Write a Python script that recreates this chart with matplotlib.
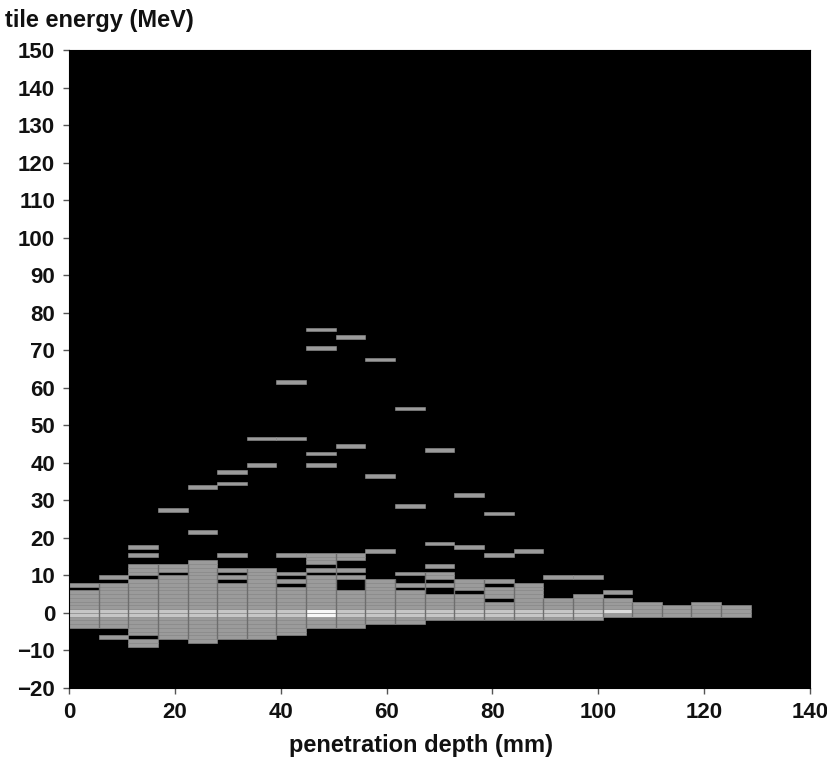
import matplotlib.pyplot as plt

plt.rcParams['font.family'] = ['Liberation Sans', 'DejaVu Sans']
plt.rcParams['font.weight'] = 'bold'

# 2D histogram of tile energy vs penetration depth
bin_width = 5.6     # mm per depth bin
row_height = 1.0    # MeV per energy bin

# main filled band per depth bin (lowest and highest energy row)
body_lo = [-4, -4, -9, -7, -8, -7, -7, -6, -4, -4, -3, -3, -2, -2, -2, -2, -2, -2, -1, -1, -1, -1, -1]
body_hi = [7, 7, 12, 12, 13, 11, 11, 10, 15, 15, 8, 10, 12, 8, 8, 7, 3, 4, 3, 2, 1, 2, 1]

# empty rows inside the band
gap_rows = [[6], [], [-7, 9], [10], [], [8, 10], [], [7, 9], [10, 12],
            [6, 7, 8, 10, 12, 13], [], [6, 8, 9], [5, 6, 8, 11], [5], [3, 7],
            [], [], [], [], [], [], [], []]

# isolated single entries above/below the band
stray_rows = [[], [9, -7], [15, 17], [27], [21, 33], [15, 34, 37], [39, 46],
              [15, 46, 61], [39, 42, 70, 75], [44, 73], [16, 36, 67], [28, 54],
              [18, 43], [17, 31], [15, 26], [16], [9], [9], [5], [], [], [], []]

# rows with more entries near zero energy
band_rows = [-1, 0]
band_cols = list(range(18))
peak_cells = [(8, 0, 4), (8, -1, 4), (18, 0, 3)]

grey_levels = {1: '#9b9b9b', 2: '#c6c6c6', 3: '#dcdcdc', 4: '#f7f7f7'}

counts = {}
for col in range(len(body_lo)):
    for row in range(body_lo[col], body_hi[col] + 1):
        if row not in gap_rows[col]:
            counts[(col, row)] = 1
    for row in stray_rows[col]:
        counts[(col, row)] = 1
for col in band_cols:
    for row in band_rows:
        if (col, row) in counts:
            counts[(col, row)] = 2
for col, row, n in peak_cells:
    counts[(col, row)] = n

xs = [c * bin_width for c, r in counts]
ys = [r * row_height for c, r in counts]
colors = [grey_levels[n] for n in counts.values()]

fig = plt.figure(figsize=(8.28, 7.59), dpi=100)
ax = fig.add_axes([69 / 828, 1 - 688 / 759, 741 / 828, 638 / 759])
ax.set_facecolor('black')

ax.bar(xs, row_height, width=bin_width, bottom=ys, align='edge',
       color=colors, edgecolor='#929292', linewidth=0.4)

# darker separators between neighbouring depth bins
for col in range(1, len(body_lo)):
    lo = max(body_lo[col - 1], body_lo[col])
    hi = min(body_hi[col - 1], body_hi[col]) + 1
    if hi > lo:
        ax.vlines(col * bin_width, lo, hi, color='#6e6e6e', linewidth=1.0)

ax.set_xlim(0, 140)
ax.set_ylim(-20, 150)
ax.set_xticks(range(0, 141, 20))
ax.set_yticks(range(-20, 151, 10))
ax.tick_params(direction='out', length=4, width=1, pad=6, labelsize=16,
               color='#555555', labelcolor='#111111')
for lab in ax.get_xticklabels() + ax.get_yticklabels():
    lab.set_fontweight('bold')
for s in ax.spines.values():
    s.set_color('black')

ax.set_xlabel('penetration depth (mm)', fontsize=17, fontweight='bold',
              color='#111111')
ax.xaxis.set_label_coords((421 - 69) / 741, -0.072)
fig.text(5 / 828, 1 - 20 / 759, 'tile energy (MeV)', fontsize=17,
         fontweight='bold', va='center', ha='left', color='#111111')

fig.savefig('out.png', dpi=100, facecolor='white')
